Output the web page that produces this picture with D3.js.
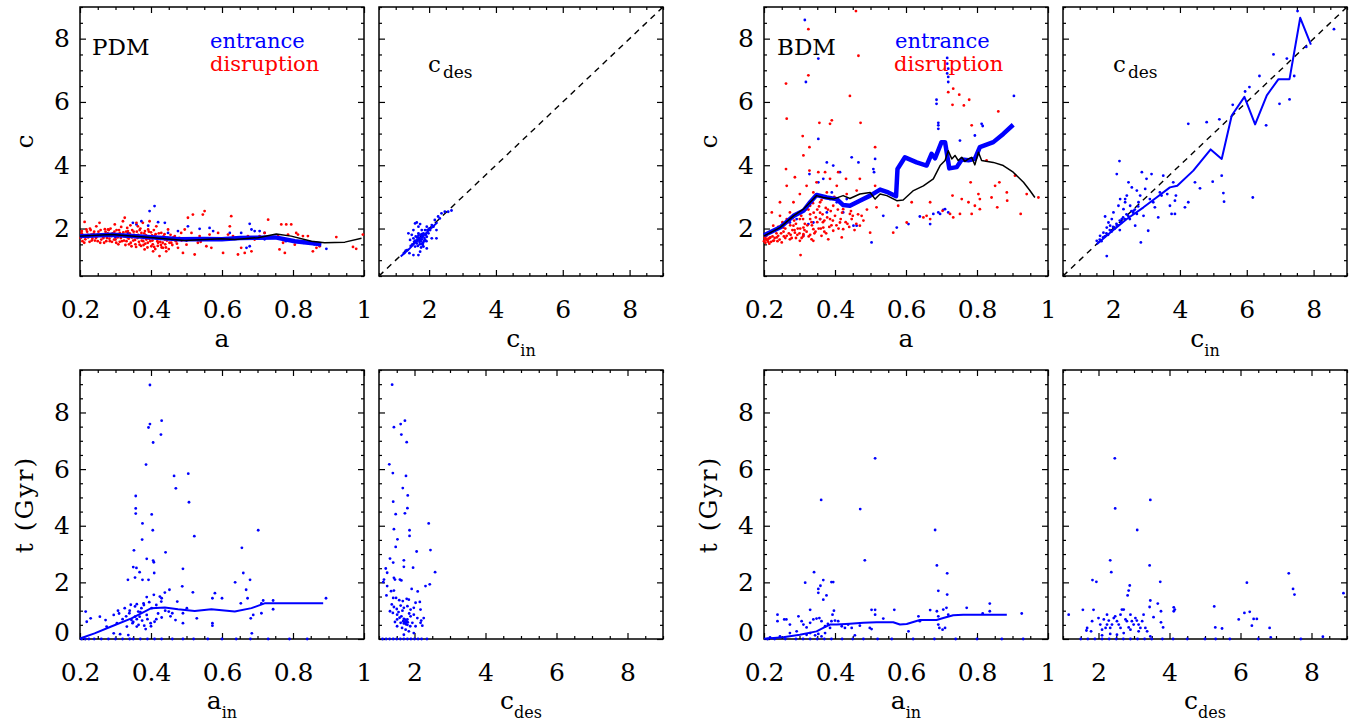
<!DOCTYPE html>
<html>
<head>
<meta charset="utf-8">
<script src="https://cdn.jsdelivr.net/npm/d3@7"></script>
<style>
  body { margin: 0; background: #fff; }
  text { font-family: "DejaVu Serif", serif; fill: #000; }
</style>
</head>
<body>
<svg id="chart" width="1353" height="725"></svg>
<script>
// ---------- data ----------

// PDM, c vs a : scatter of entrance (blue) and disruption (red)
const pdmEntrance = [[0.396,2.55],[0.41,2.71],[0.349,2.18],[0.359,2.13],[0.373,2.23],[0.392,2.09],[0.42,2.2],[0.439,2.18],[0.476,1.92],[0.504,2.07],[0.537,1.99],[0.565,2.02],[0.575,1.92],[0.622,1.86],[0.654,1.86],[0.678,2.15],[0.683,1.97],[0.692,1.92],[0.706,1.92],[0.72,1.86],[0.669,1.39],[0.678,1.44],[0.894,1.36],[0.448,1.86],[0.335,1.86],[0.307,1.81],[0.269,1.76],[0.25,1.8],[0.3,1.72],[0.33,1.74],[0.38,1.7],[0.43,1.68],[0.5,1.62],[0.55,1.66],[0.6,1.66],[0.65,1.7],[0.72,1.66],[0.78,1.6],[0.83,1.55],[0.86,1.5]];
const pdmDisruption = [[0.213,2.21],[0.218,1.97],[0.232,1.81],[0.246,2.07],[0.255,2.18],[0.26,1.65],[0.279,1.97],[0.288,1.76],[0.298,2.13],[0.302,1.55],[0.312,1.86],[0.321,2.23],[0.326,2.34],[0.331,1.6],[0.335,1.92],[0.345,1.44],[0.354,1.76],[0.359,2.18],[0.363,2.07],[0.368,1.49],[0.373,1.86],[0.377,2.18],[0.382,1.34],[0.387,1.65],[0.392,1.97],[0.396,2.23],[0.401,1.44],[0.406,1.28],[0.41,1.76],[0.415,2.07],[0.42,1.55],[0.424,1.13],[0.429,1.86],[0.434,1.39],[0.439,1.65],[0.443,1.28],[0.448,1.97],[0.457,1.55],[0.467,1.76],[0.476,1.39],[0.485,1.86],[0.49,1.23],[0.495,1.97],[0.5,1.49],[0.504,2.34],[0.514,1.86],[0.518,2.44],[0.523,1.18],[0.532,1.55],[0.537,1.76],[0.546,2.44],[0.551,2.55],[0.556,1.44],[0.565,1.81],[0.57,1.39],[0.579,1.65],[0.589,1.86],[0.603,1.23],[0.617,1.81],[0.622,2.07],[0.626,2.39],[0.631,1.76],[0.645,1.18],[0.654,1.39],[0.664,1.23],[0.673,1.76],[0.683,1.28],[0.692,1.65],[0.706,1.76],[0.72,1.86],[0.73,2.28],[0.758,1.76],[0.762,1.34],[0.767,2.13],[0.772,1.55],[0.777,1.23],[0.781,2.13],[0.786,1.81],[0.795,2.13],[0.805,1.49],[0.809,1.86],[0.814,1.81],[0.828,1.76],[0.842,1.76],[0.856,1.28],[0.866,1.39],[0.875,1.44],[0.922,1.73],[0.969,1.42],[0.978,1.36],[0.997,1.81],
  [0.202,1.7],[0.205,1.85],[0.207,1.6],[0.21,1.78],[0.215,1.66],[0.22,1.9],[0.223,1.72],[0.227,1.58],[0.23,1.95],[0.235,1.68],[0.238,1.83],[0.242,1.62],[0.248,1.75],[0.252,1.9],[0.257,1.55],[0.262,1.8],[0.266,1.7],[0.27,1.98],[0.274,1.6],[0.278,1.85],[0.283,1.68],[0.286,2.0],[0.29,1.58],[0.294,1.78],[0.297,1.9],[0.3,1.65],[0.305,1.82],[0.308,1.5],[0.31,1.95],[0.315,1.7],[0.318,1.6],[0.322,1.88],[0.325,1.75],[0.328,1.48],[0.333,2.02],[0.337,1.68],[0.34,1.85],[0.343,1.55],[0.347,1.95],[0.35,1.62],[0.352,1.8],[0.356,1.5],[0.36,1.9],[0.362,1.7],[0.366,1.58],[0.37,2.0],[0.372,1.45],[0.375,1.75],[0.378,1.6],[0.381,1.85],[0.384,1.52],[0.388,1.7],[0.39,1.4],[0.394,1.9],[0.398,1.6],[0.403,1.78],[0.405,1.5],[0.408,1.95],[0.412,1.35],[0.416,1.68],[0.419,1.45],[0.422,1.85],[0.426,1.58],[0.43,1.4],[0.435,1.75],[0.44,1.5],[0.445,1.62],[0.45,1.35],[0.455,1.8],[0.46,1.48],[0.47,1.6],[0.48,1.7],
  [0.205,1.92],[0.212,1.55],[0.222,1.8],[0.228,2.0],[0.233,1.62],[0.24,1.9],[0.245,1.7],[0.25,1.6],[0.258,1.95],[0.264,1.75],[0.268,1.55],[0.272,1.9],[0.276,1.7],[0.281,1.95],[0.284,1.6],[0.292,1.85],[0.296,1.65],[0.303,1.95],[0.306,1.72],[0.312,1.58],[0.316,2.05],[0.32,1.78],[0.324,1.62],[0.33,1.9],[0.334,1.72],[0.338,1.5],[0.342,2.1],[0.346,1.72],[0.351,1.9],[0.355,1.64],[0.358,1.42],[0.364,1.8],[0.368,1.95],[0.374,1.62],[0.379,1.48],[0.383,1.92],[0.386,1.78],[0.391,1.55],[0.395,1.68],[0.4,1.88],[0.404,1.62],[0.409,1.42],[0.413,1.82],[0.418,1.6],[0.423,1.7],[0.428,1.48],[0.433,1.55],[0.438,1.82],[0.442,1.4],[0.447,1.7],[0.452,1.55],[0.463,1.72],[0.473,1.52],[0.486,1.62],[0.52,1.65],[0.54,1.58]];
const pdmMeanEntrance = [[0.2,1.76],[0.29,1.8],[0.38,1.74],[0.48,1.66],[0.55,1.67],[0.6,1.66],[0.65,1.7],[0.7,1.71],[0.75,1.72],[0.805,1.6],[0.85,1.54],[0.88,1.5]];
const pdmMeanDisruption = [[0.2,1.76],[0.288,1.81],[0.382,1.73],[0.495,1.62],[0.598,1.68],[0.636,1.65],[0.701,1.71],[0.753,1.83],[0.795,1.76],[0.852,1.6],[0.889,1.55],[0.946,1.57],[0.993,1.69]];

// PDM, c_des vs c_in
const pdmCin = [[1.38,1.85],[1.43,1.64],[1.48,1.8],[1.53,1.95],[1.58,2.16],[1.63,2.19],[1.68,2.06],[1.73,2.14],[1.78,1.95],[1.41,1.22],[1.53,1.16],[1.68,1.16],[1.73,1.27],[1.83,1.43],[1.88,1.64],[1.93,1.74],[1.98,1.85],[2.03,1.95],[2.08,1.69],[2.13,2.06],[2.17,2.27],[2.22,1.69],[2.27,2.38],[2.32,2.32],[2.37,2.48],[2.47,2.53],[2.57,2.53],[2.67,2.57],[1.93,1.37],[1.78,1.74],[1.63,1.53],[1.68,1.85],[1.83,1.85],[1.88,1.95],[1.73,1.64],[1.58,1.43],[1.53,1.69],[1.93,2.06],[2.08,2.11],[2.22,1.95],
  [1.7,1.7],[1.75,1.6],[1.8,1.75],[1.72,1.5],[1.85,1.6],[1.65,1.65],[1.78,1.82],[1.9,1.8],[1.6,1.75],[1.82,1.55],[1.76,1.4],[1.68,1.78],[1.95,1.95],[1.5,1.5],[1.45,1.45],[1.3,1.3],[1.25,1.22],[1.35,1.32],[2.0,2.0],[2.1,2.05],[1.55,1.58],[1.62,1.6],
  [1.66,1.45],[1.71,1.58],[1.79,1.66],[1.86,1.7],[1.74,1.8],[1.81,1.48],[1.64,1.72],[1.92,1.6],[1.58,1.62],[1.77,1.52]];
const pdmCinMean = [[1.15,1.12],[1.4,1.35],[1.6,1.57],[1.8,1.74],[2.0,1.95],[2.25,2.2]];

// BDM, c vs a
const bdmEntrance = [[0.315,8.59],[0.353,7.37],[0.318,6.63],[0.353,4.83],[0.328,3.72],[0.377,4.09],[0.395,3.99],[0.414,3.78],[0.353,3.46],[0.367,3.57],[0.391,3.14],[0.405,2.83],[0.433,2.93],[0.447,4.25],[0.466,4.09],[0.508,3.88],[0.513,4.2],[0.51,3.78],[0.536,2.4],[0.503,1.56],[0.461,2.09],[0.574,2.03],[0.607,2.14],[0.639,2.38],[0.668,2.14],[0.677,2.46],[0.691,2.51],[0.696,2.46],[0.705,2.59],[0.71,2.61],[0.719,2.51],[0.716,7.39],[0.716,7.21],[0.719,7.05],[0.716,6.9],[0.719,6.79],[0.719,6.63],[0.686,6.07],[0.686,5.94],[0.691,5.34],[0.691,5.26],[0.691,5.15],[0.752,4.78],[0.794,4.94],[0.813,5.31],[0.816,5.24],[0.904,6.19],[0.386,2.93],[0.358,2.3],[0.377,2.51],[0.339,2.19],[0.311,1.77],[0.325,2.14],[0.423,2.51],[0.452,2.09],[0.273,2.19],[0.292,2.3]];
const bdmDisruption = [[0.459,8.87],[0.325,8.3],[0.466,7.46],[0.325,6.84],[0.262,6.58],[0.442,6.19],[0.264,5.47],[0.356,5.34],[0.386,5.31],[0.391,5.42],[0.472,5.34],[0.309,4.92],[0.328,4.57],[0.311,4.31],[0.262,3.88],[0.513,4.57],[0.287,3.62],[0.328,3.83],[0.353,3.78],[0.372,3.78],[0.409,3.78],[0.386,3.57],[0.264,3.35],[0.32,3.35],[0.348,3.46],[0.405,3.35],[0.431,3.57],[0.47,3.57],[0.513,3.35],[0.461,3.2],[0.301,3.09],[0.339,3.14],[0.377,3.14],[0.433,3.09],[0.499,3.04],[0.517,2.67],[0.245,2.83],[0.283,2.83],[0.33,2.72],[0.358,2.83],[0.395,2.72],[0.423,2.61],[0.442,2.46],[0.475,2.4],[0.222,2.51],[0.245,2.4],[0.273,2.51],[0.301,2.3],[0.33,2.3],[0.358,2.3],[0.386,2.3],[0.414,2.19],[0.447,2.3],[0.47,2.09],[0.226,2.09],[0.254,2.03],[0.283,2.09],[0.311,2.03],[0.339,1.98],[0.367,2.03],[0.395,1.93],[0.423,1.98],[0.217,1.87],[0.24,1.77],[0.264,1.77],[0.287,1.87],[0.311,1.82],[0.334,1.66],[0.362,1.77],[0.381,1.66],[0.419,1.72],[0.499,1.87],[0.208,1.66],[0.226,1.61],[0.25,1.56],[0.273,1.66],[0.301,1.61],[0.339,1.61],[0.303,1.16],[0.564,1.87],[0.578,2.72],[0.602,2.19],[0.616,2.83],[0.668,2.83],[0.731,3.04],[0.757,2.93],[0.776,2.83],[0.782,3.46],[0.804,3.09],[0.794,2.72],[0.808,2.93],[0.827,4.15],[0.86,5.7],[0.785,5.26],[0.863,3.46],[0.884,3.14],[0.857,2.67],[0.907,3.67],[0.923,2.46],[0.94,3.09],[0.973,2.98],[0.719,6.31],[0.733,6.42],[0.75,6.23],[0.731,5.91],[0.763,5.89],[0.778,6.07],[0.724,2.46],[0.733,2.35],[0.703,2.56],[0.658,2.4],[0.649,2.35],[0.668,2.3],[0.752,2.46],[0.785,2.46],[0.808,2.61],[0.841,2.98],[0.851,3.35],[0.885,2.88],
  [0.2,1.6],[0.202,1.7],[0.204,1.55],[0.206,1.75],[0.21,1.62],[0.213,1.68],[0.215,1.52],[0.218,1.72],[0.22,1.58],[0.23,1.7],[0.235,1.85],[0.238,1.6],[0.255,1.9],[0.26,1.7],[0.268,2.2],[0.275,1.8],[0.28,1.95],[0.285,2.25],[0.29,1.7],[0.295,2.0],[0.3,1.85],[0.305,2.4],[0.31,1.75],[0.315,2.15],[0.32,1.9],[0.325,2.6],[0.33,1.8],[0.335,2.1],[0.34,2.5],[0.345,1.9],[0.35,2.2],[0.355,2.7],[0.36,2.0],[0.365,2.45],[0.37,2.25],[0.375,1.85],[0.38,2.6],[0.39,2.1],[0.4,2.4],[0.41,2.0],[0.42,2.5],[0.43,2.2],[0.44,2.05],[0.45,2.4],[0.46,2.15],
  [0.205,1.65],[0.208,1.8],[0.212,1.58],[0.216,1.7],[0.22,1.9],[0.224,1.75],[0.228,1.62],[0.232,1.95],[0.236,1.72],[0.24,2.05],[0.244,1.65],[0.248,1.85],[0.252,2.2],[0.256,1.75],[0.26,2.0],[0.264,2.3],[0.27,1.85],[0.274,2.1],[0.278,1.7],[0.282,2.35],[0.286,1.95],[0.29,2.15],[0.294,1.8],[0.298,2.5],[0.302,2.0],[0.306,1.7],[0.31,2.3],[0.314,1.95],[0.318,2.6],[0.322,2.1],[0.326,1.75],[0.33,2.45],[0.334,2.2],[0.338,2.8],[0.342,1.85],[0.346,2.35],[0.35,2.6],[0.354,2.0],[0.358,2.5],[0.362,2.9],[0.366,2.2],[0.37,1.9],[0.374,2.65],[0.378,2.35],[0.384,2.05],[0.388,2.55],[0.394,2.25],[0.398,3.0],[0.404,2.1],[0.408,2.6],[0.416,2.3],[0.425,2.75],[0.435,2.15],[0.445,2.55],[0.455,1.95],[0.465,2.45],[0.48,2.25],[0.49,2.6]];
const bdmMeanEntrance = [[0.2,1.79],[0.245,2.03],[0.283,2.4],[0.311,2.56],[0.33,2.83],[0.348,3.06],[0.377,2.98],[0.405,2.93],[0.423,2.74],[0.442,2.72],[0.47,2.88],[0.499,3.04],[0.527,3.23],[0.55,3.14],[0.572,3.02],[0.576,3.88],[0.597,4.25],[0.63,4.09],[0.658,3.99],[0.672,4.36],[0.682,4.22],[0.7,4.73],[0.71,4.73],[0.722,3.9],[0.743,3.94],[0.757,4.18],[0.776,4.16],[0.794,4.2],[0.808,4.57],[0.846,4.73],[0.874,4.99],[0.902,5.28]];
const bdmMeanDisruption = [[0.2,1.77],[0.245,2.03],[0.283,2.4],[0.311,2.61],[0.33,2.83],[0.348,3.04],[0.367,2.98],[0.395,2.93],[0.423,3.04],[0.442,2.95],[0.47,3.09],[0.499,3.14],[0.513,2.93],[0.527,3.09],[0.546,3.04],[0.574,2.88],[0.592,2.9],[0.621,3.2],[0.649,3.35],[0.677,3.57],[0.696,3.99],[0.71,4.15],[0.719,4.46],[0.729,4.2],[0.738,4.31],[0.747,4.15],[0.757,4.25],[0.766,4.12],[0.776,4.2],[0.785,4.25],[0.794,4.01],[0.804,4.41],[0.813,4.15],[0.846,4.09],[0.874,3.99],[0.902,3.78],[0.931,3.46],[0.949,3.2],[0.963,2.98]];

// BDM, c_des vs c_in
const bdmCin = [[1.51,1.61],[1.61,1.77],[1.71,1.87],[1.81,2.03],[1.86,2.19],[1.76,2.38],[1.91,2.09],[1.96,2.3],[2.01,2.51],[2.11,2.09],[2.16,2.72],[2.21,2.93],[2.26,2.3],[2.31,2.61],[2.36,2.83],[2.41,3.04],[2.46,3.46],[2.51,2.72],[2.56,3.3],[2.61,2.56],[2.66,2.09],[2.71,2.46],[2.76,2.83],[2.81,3.04],[2.86,3.78],[2.91,2.4],[2.96,3.25],[3.0,3.57],[3.05,1.93],[3.1,2.93],[3.15,3.72],[3.2,2.83],[3.25,2.67],[3.35,2.35],[3.4,3.14],[3.45,3.04],[3.5,3.67],[3.62,3.09],[3.7,2.72],[3.75,2.46],[3.8,3.46],[3.85,2.88],[3.85,2.46],[3.88,3.04],[4.15,2.67],[4.25,5.31],[4.25,2.83],[4.45,3.46],[4.6,3.27],[4.8,5.36],[4.98,3.48],[5.18,5.45],[5.25,3.67],[5.3,3.12],[5.32,2.85],[5.58,5.91],[5.95,6.33],[6.08,6.47],[6.18,2.98],[6.38,6.82],[6.58,5.26],[6.8,7.5],[6.98,5.94],[7.2,7.37],[7.28,6.08],[7.42,6.82],[7.52,8.87],[7.78,7.74],[8.61,8.3],[2.19,4.13],[2.11,3.72],[1.81,1.13],[2.83,1.56],[2.36,2.93],[2.71,3.2],
  [1.6,1.65],[1.7,1.72],[1.8,1.85],[1.9,1.95],[2.0,2.05],[2.1,2.15],[2.2,2.25],[2.3,2.35],[2.4,2.45],[1.65,1.6],[1.75,1.75],[1.85,1.8],[1.95,1.9],[2.05,2.0],[2.15,2.1],[2.25,2.2],[2.35,2.3],[2.45,2.4],[2.55,2.55],[2.65,2.6],[2.75,2.7],[2.5,2.3],[2.6,2.5],[2.2,1.95]];
const bdmCinMean = [[1.51,1.5],[1.91,1.87],[2.41,2.3],[2.91,2.67],[3.3,2.98],[3.7,3.3],[3.92,3.35],[4.4,3.83],[4.92,4.5],[5.25,4.2],[5.55,5.57],[5.93,6.16],[6.25,5.29],[6.6,6.21],[6.95,6.72],[7.28,6.72],[7.6,8.66],[7.92,7.81]];

// PDM, t vs a_in and t vs c_des
const pdmTin = [[0.397,8.97],[0.397,7.59],[0.393,7.47],[0.43,7.71],[0.428,7.22],[0.406,6.94],[0.386,6.16],[0.402,4.4],[0.465,5.76],[0.47,5.32],[0.505,5.84],[0.507,4.83],[0.357,5.05],[0.357,4.61],[0.357,4.43],[0.376,4.08],[0.375,3.51],[0.352,3.13],[0.405,3.84],[0.441,3.06],[0.522,3.63],[0.388,2.83],[0.406,2.77],[0.408,2.71],[0.409,2.33],[0.35,2.54],[0.359,2.51],[0.368,2.36],[0.376,2.09],[0.393,2.09],[0.335,2.09],[0.355,2.17],[0.49,2.48],[0.488,1.86],[0.518,1.65],[0.452,1.74],[0.439,1.64],[0.43,1.44],[0.429,1.32],[0.408,1.56],[0.388,1.48],[0.379,1.26],[0.36,1.23],[0.343,1.21],[0.326,1.09],[0.307,1.0],[0.295,0.85],[0.272,0.67],[0.256,0.79],[0.23,0.73],[0.216,0.97],[0.219,0.61],[0.275,0.44],[0.295,0.2],[0.313,0.17],[0.336,0.14],[0.348,0.56],[0.36,0.44],[0.368,0.79],[0.381,0.47],[0.399,0.56],[0.41,0.61],[0.415,0.7],[0.43,0.76],[0.45,0.97],[0.46,0.91],[0.469,0.67],[0.474,1.32],[0.49,0.56],[0.49,0.91],[0.501,1.09],[0.529,0.73],[0.573,1.44],[0.58,1.62],[0.6,1.44],[0.573,0.56],[0.573,0.47],[0.637,2.0],[0.656,3.22],[0.66,2.33],[0.668,1.74],[0.672,1.44],[0.679,2.09],[0.653,1.26],[0.681,0.73],[0.684,0.2],[0.688,0.85],[0.702,3.84],[0.711,1.26],[0.711,0.91],[0.716,1.36],[0.744,1.05],[0.744,1.36],[0.893,1.44],[0.339,0.91],[0.345,0.67],[0.355,0.79],[0.364,0.97],[0.373,1.09],[0.304,0.56],[0.332,0.44],[0.388,0.85],[0.402,1.09],
  [0.33,0.8],[0.34,1.0],[0.35,0.6],[0.355,1.15],[0.36,0.7],[0.365,0.5],[0.37,0.95],[0.375,0.65],[0.38,1.2],[0.385,0.35],[0.39,0.7],[0.395,1.3],[0.4,0.45],[0.32,0.7],[0.31,0.9],[0.415,1.2],[0.42,0.9],[0.425,1.5],[0.44,1.0],[0.455,0.8],
  [0.205,0],[0.215,0],[0.225,0],[0.24,0],[0.26,0],[0.28,0],[0.3,0],[0.32,0],[0.34,0],[0.35,0],[0.37,0],[0.39,0],[0.41,0],[0.43,0],[0.46,0],[0.49,0],[0.52,0],[0.56,0],[0.6,0],[0.64,0],[0.68,0],[0.73,0],[0.79,0],[0.84,0]];
const pdmTinMean = [[0.2,0.02],[0.241,0.2],[0.288,0.44],[0.345,0.73],[0.401,1.09],[0.439,1.11],[0.476,1.05],[0.523,0.99],[0.57,1.05],[0.636,0.97],[0.683,1.09],[0.72,1.26],[0.885,1.26]];
const pdmTdes = [[1.37,8.98],[1.42,7.48],[1.61,7.59],[1.73,7.71],[1.63,7.22],[1.78,6.95],[1.29,6.17],[1.39,5.86],[1.76,5.76],[1.67,5.33],[1.81,5.07],[1.4,4.85],[1.8,4.62],[1.73,4.44],[1.47,4.41],[2.4,4.08],[1.86,3.84],[1.42,3.88],[1.86,3.64],[1.52,3.52],[2.45,3.14],[2.06,3.09],[1.47,3.25],[1.31,2.84],[1.4,2.7],[1.7,2.78],[1.7,2.55],[1.96,2.52],[2.58,2.36],[1.19,2.49],[1.23,2.34],[1.14,2.1],[1.12,2.01],[1.42,2.16],[1.45,2.1],[1.59,2.1],[1.63,2.07],[1.23,1.87],[1.34,1.69],[1.42,1.71],[1.21,1.54],[1.92,1.77],[2.09,1.68],[2.31,1.87],[2.43,1.93],[1.4,1.45],[1.48,1.45],[1.57,1.37],[1.67,1.34],[1.78,1.42],[1.84,1.39],[2.15,1.31],[2.03,1.28],[1.36,1.22],[1.42,1.13],[1.5,1.06],[1.61,1.18],[1.7,1.1],[1.8,1.16],[1.89,1.04],[1.98,1.1],[2.17,1.04],[1.31,0.98],[1.39,0.92],[1.51,0.86],[1.63,0.8],[1.7,0.71],[1.8,0.69],[1.89,0.8],[1.98,0.86],[2.08,0.74],[2.26,0.74],[1.51,0.69],[1.61,0.57],[1.68,0.63],[1.75,0.57],[1.81,0.59],[1.94,0.57],[2.17,0.57],[1.51,0.45],[1.65,0.39],[1.75,0.33],[1.84,0.27],[1.98,0.21],[2.03,0.45],[1.7,0.15],[2.22,0.47],[2.19,0.65],
  [1.72,0.6],[1.78,0.62],[1.76,0.52],[1.7,0.55],[1.8,0.5],[1.74,0.68],[1.55,0.95],[1.66,1.0],[1.85,0.9],[1.58,0.75],[1.88,0.45],[1.45,0.6],
  [1.1,0],[1.2,0],[1.3,0],[1.4,0],[1.5,0],[1.6,0],[1.7,0],[1.8,0],[1.9,0],[2.0,0],[2.1,0],[2.2,0],[2.35,0]];

// BDM, t vs a_in and t vs c_des
const bdmTin = [[0.513,6.38],[0.361,4.91],[0.471,4.59],[0.484,2.78],[0.682,3.85],[0.687,2.6],[0.691,1.7],[0.716,2.32],[0.716,1.57],[0.341,2.36],[0.316,1.99],[0.367,2.08],[0.359,1.88],[0.353,1.77],[0.353,1.63],[0.376,1.54],[0.367,1.39],[0.39,2.01],[0.395,2.01],[0.33,1.03],[0.397,1.0],[0.393,0.86],[0.503,1.03],[0.513,1.03],[0.513,0.86],[0.567,1.03],[0.536,0.72],[0.238,0.86],[0.238,0.63],[0.257,0.69],[0.263,0.69],[0.273,0.51],[0.297,0.8],[0.306,0.63],[0.311,0.51],[0.32,0.41],[0.33,0.57],[0.339,0.69],[0.348,0.72],[0.356,0.74],[0.362,0.63],[0.372,0.45],[0.38,0.53],[0.386,0.39],[0.39,0.63],[0.4,0.65],[0.409,0.63],[0.419,0.45],[0.428,0.39],[0.437,0.51],[0.447,0.39],[0.456,0.13],[0.47,0.47],[0.498,0.39],[0.503,0.35],[0.607,0.27],[0.635,0.8],[0.639,0.63],[0.668,1.02],[0.687,0.98],[0.691,0.8],[0.691,0.51],[0.694,0.39],[0.703,0.33],[0.71,0.39],[0.705,1.04],[0.714,1.1],[0.719,0.86],[0.771,1.1],[0.816,0.9],[0.836,1.25],[0.836,0.98],[0.926,0.9],[0.32,0.15],[0.33,0.21],[0.344,0.13],[0.353,0.18],[0.362,0.09],[0.372,0.21],[0.273,0.21],[0.245,0.09],[0.217,0.06],[0.292,0.27],
  [0.21,0],[0.23,0],[0.26,0],[0.29,0],[0.31,0],[0.33,0],[0.35,0],[0.37,0],[0.39,0],[0.42,0],[0.45,0],[0.48,0],[0.52,0],[0.56,0],[0.62,0],[0.68,0],[0.74,0],[0.8,0],[0.87,0],[0.93,0]];
const bdmTinMean = [[0.2,0.01],[0.254,0.06],[0.301,0.15],[0.348,0.27],[0.367,0.39],[0.386,0.51],[0.405,0.51],[0.442,0.54],[0.48,0.57],[0.517,0.59],[0.564,0.59],[0.583,0.51],[0.602,0.53],[0.639,0.67],[0.686,0.67],[0.705,0.74],[0.733,0.84],[0.761,0.86],[0.884,0.86]];
const bdmTdes = [[2.46,6.38],[2.47,4.61],[3.46,4.91],[3.09,3.85],[2.33,2.78],[2.36,2.36],[1.83,2.08],[1.94,2.02],[3.44,2.6],[3.74,2.02],[2.88,1.89],[2.85,1.71],[2.82,1.54],[7.36,2.32],[7.48,1.77],[7.52,1.57],[6.18,1.99],[8.9,1.62],[1.16,0.86],[1.56,1.03],[1.86,1.03],[4.15,1.04],[4.12,0.98],[5.26,1.15],[5.29,0.41],[5.48,0.37],[6.11,0.92],[6.26,0.96],[5.95,0.69],[6.37,0.71],[6.46,0.71],[6.32,0.47],[6.82,0.39],[6.85,0.06],[8.32,0.08],[3.46,1.36],[3.44,1.13],[3.67,1.25],[3.55,0.77],[3.76,0.98],[3.76,0.59],[3.82,0.41],[4.12,1.12],[1.82,0.63],[1.68,0.39],[1.66,0.3],[1.79,0.27],[2.05,0.51],[2.15,0.69],[2.2,0.39],[2.24,0.51],[2.29,0.65],[2.33,0.39],[2.38,0.51],[2.43,0.74],[2.47,0.8],[2.52,0.63],[2.57,0.51],[2.62,0.39],[2.66,1.04],[2.71,1.04],[2.76,0.69],[2.8,0.63],[2.85,0.41],[2.9,0.33],[2.94,0.63],[2.99,0.51],[3.04,0.74],[3.08,0.65],[3.13,0.51],[3.18,0.39],[3.23,0.63],[3.27,0.86],[3.32,0.39],[3.37,0.27],[2.71,0.21],[2.52,0.15],[2.33,0.18],[2.1,0.13],[2.9,0.86],[2.62,0.86],[2.24,0.86],[2.0,0.74],[2.1,0.33],[3.13,0.27],[3.46,0.09],
  [1.5,0],[1.7,0],[1.9,0],[2.1,0],[2.3,0],[2.5,0],[2.7,0],[2.9,0],[3.1,0],[3.3,0],[3.5,0],[3.8,0],[4.1,0],[4.5,0],[5.0,0],[5.3,0],[5.7,0],[6.5,0],[7.7,0]];

// axis ranges and ticks
const aRange = [0.2, 1];
const aTicks = [0.2, 0.4, 0.6, 0.8, 1];
const cRange = [0.5, 9];
const cTicks = [2, 4, 6, 8];
const cdesRange = [1, 9];
const tRange = [0, 9.5];
const tTicks = [0, 2, 4, 6, 8];
const diagonal = [0.5, 9];

// ---------- drawing ----------
const svg = d3.select('#chart');
const dims = { w: 284, h: 269 };
const BLUE = '#0000ff', RED = '#ff0000';

const fmtA = d => d === 1 ? '1' : d3.format('.1f')(d);
const fmtC = d => String(d);

// one IDL-like box panel with ticks on every side
const makePanel = p => {
    const g = svg.append('g').attr('transform', `translate(${p.left},${p.top})`);
    const x = d3.scaleLinear().domain(p.xd).range([0, dims.w]);
    const y = d3.scaleLinear().domain(p.yd).range([dims.h, 0]);

    const minorX = d3.range(p.xd[0], p.xd[1] + 1e-9, p.xm).filter(v => !p.xt.some(t => Math.abs(t - v) < 1e-6));
    const minorY = d3.range(p.yd[0], p.yd[1] + 1e-9, p.ym).filter(v => !p.yt.some(t => Math.abs(t - v) < 1e-6));

    const addAxis = (gen, tr, vals, len, fmt, pad) => {
        const a = g.append('g').attr('transform', tr)
            .call(gen.tickValues(vals).tickSize(-len).tickPadding(pad || 3).tickFormat(fmt || ''));
        a.select('.domain').remove();
        a.selectAll('line').attr('stroke', '#000').attr('stroke-width', 1.2);
        a.selectAll('text').attr('font-size', 25).attr('font-family', '"DejaVu Serif", serif').attr('fill', '#000');
        return a;
    };

    // major
    addAxis(d3.axisBottom(x), `translate(0,${dims.h})`, p.xt, 6, p.xf, 24);
    addAxis(d3.axisTop(x), 'translate(0,0)', p.xt, 6);
    const yl = addAxis(d3.axisLeft(y), 'translate(0,0)', p.yt, 6, p.yf, 10);
    addAxis(d3.axisRight(y), `translate(${dims.w},0)`, p.yt, 6);
    // lift the zero label like the original
    yl.selectAll('.tick text').filter(d => d === 0).attr('dy', '0.06em');
    // minor
    addAxis(d3.axisBottom(x), `translate(0,${dims.h})`, minorX, 3);
    addAxis(d3.axisTop(x), 'translate(0,0)', minorX, 3);
    addAxis(d3.axisLeft(y), 'translate(0,0)', minorY, 3);
    addAxis(d3.axisRight(y), `translate(${dims.w},0)`, minorY, 3);

    g.append('rect')
        .attr('width', dims.w).attr('height', dims.h)
        .attr('fill', 'none').attr('stroke', '#000').attr('stroke-width', 1.5);

    return { g, x, y };
};

const dots = (P, data, color) => {
    P.g.append('g').selectAll('circle')
        .data(data)
        .join('circle')
        .attr('cx', d => P.x(d[0]))
        .attr('cy', d => P.y(d[1]))
        .attr('r', 1.4)
        .attr('fill', color);
};

const path = (P, data, color, width, dash) => {
    const line = d3.line().x(d => P.x(d[0])).y(d => P.y(d[1]));
    P.g.append('path')
        .attr('d', line(data))
        .attr('fill', 'none')
        .attr('stroke', color)
        .attr('stroke-width', width)
        .attr('stroke-linejoin', 'round')
        .attr('stroke-dasharray', dash || null);
};

const diag = P => path(P, [[diagonal[0], diagonal[0]], [diagonal[1], diagonal[1]]], '#000', 1.4, '6,5');

// titles
const xTitle = (P, main, sub, y) => {
    const t = svg.append('text')
        .attr('x', P.left + dims.w / 2).attr('y', y)
        .attr('text-anchor', 'middle').attr('font-size', 25);
    t.append('tspan').text(main);
    if (sub) t.append('tspan').attr('font-size', 16).attr('dy', 9).text(sub);
};
const yTitle = (P, label) => {
    svg.append('text')
        .attr('transform', `translate(${P.left - 47},${P.top + dims.h / 2}) rotate(-90)`)
        .attr('text-anchor', 'middle').attr('font-size', 25)
        .attr('letter-spacing', label.length > 2 ? 2 : 0)
        .text(label);
};
const inner = (P, main, sub, dx, y) => {
    const t = P.g.append('text').attr('x', dx).attr('y', y).attr('font-size', 23);
    t.append('tspan').text(main);
    t.append('tspan').attr('font-size', 17).attr('dy', 6).attr('dx', 2).text(sub);
};

const topY = 7, botY = 370;
const cfg = [
    { left: 80,   top: topY, xd: aRange, yd: cRange, xt: aTicks, yt: cTicks, xm: 0.05, ym: 0.5, xf: fmtA, yf: fmtC },
    { left: 379,  top: topY, xd: cRange, yd: cRange, xt: cTicks, yt: cTicks, xm: 0.5, ym: 0.5, xf: fmtC },
    { left: 764,  top: topY, xd: aRange, yd: cRange, xt: aTicks, yt: cTicks, xm: 0.05, ym: 0.5, xf: fmtA, yf: fmtC },
    { left: 1063, top: topY, xd: cRange, yd: cRange, xt: cTicks, yt: cTicks, xm: 0.5, ym: 0.5, xf: fmtC },
    { left: 80,   top: botY, xd: aRange, yd: tRange, xt: aTicks, yt: tTicks, xm: 0.05, ym: 0.5, xf: fmtA, yf: fmtC },
    { left: 379,  top: botY, xd: cdesRange, yd: tRange, xt: cTicks, yt: tTicks, xm: 0.5, ym: 0.5, xf: fmtC },
    { left: 764,  top: botY, xd: aRange, yd: tRange, xt: aTicks, yt: tTicks, xm: 0.05, ym: 0.5, xf: fmtA, yf: fmtC },
    { left: 1063, top: botY, xd: cdesRange, yd: tRange, xt: cTicks, yt: tTicks, xm: 0.5, ym: 0.5, xf: fmtC }
];
const P = cfg.map(c => Object.assign(makePanel(c), c));

// PDM c vs a
dots(P[0], pdmEntrance, BLUE);
dots(P[0], pdmDisruption, RED);
path(P[0], pdmMeanEntrance, BLUE, 4.5);
path(P[0], pdmMeanDisruption, '#000', 1.5);
P[0].g.append('text').attr('x', 12).attr('y', 48).attr('font-size', 23).text('PDM');
P[0].g.append('text').attr('x', 130).attr('y', 41).attr('font-size', 21).style('fill', BLUE).text('entrance');
P[0].g.append('text').attr('x', 130).attr('y', 64).attr('font-size', 21).style('fill', RED).text('disruption');

// PDM c_des vs c_in
diag(P[1]);
dots(P[1], pdmCin, BLUE);
path(P[1], pdmCinMean, BLUE, 2);
inner(P[1], 'c', 'des', 49, 65);

// BDM c vs a
dots(P[2], bdmEntrance, BLUE);
dots(P[2], bdmDisruption, RED);
path(P[2], bdmMeanEntrance, BLUE, 4.5);
path(P[2], bdmMeanDisruption, '#000', 1.5);
P[2].g.append('text').attr('x', 13).attr('y', 48).attr('font-size', 23).text('BDM');
P[2].g.append('text').attr('x', 131).attr('y', 41).attr('font-size', 21).style('fill', BLUE).text('entrance');
P[2].g.append('text').attr('x', 130).attr('y', 64).attr('font-size', 21).style('fill', RED).text('disruption');

// BDM c_des vs c_in
diag(P[3]);
dots(P[3], bdmCin, BLUE);
path(P[3], bdmCinMean, BLUE, 2);
inner(P[3], 'c', 'des', 50, 65);

// t panels
dots(P[4], pdmTin, BLUE);
path(P[4], pdmTinMean, BLUE, 2);
dots(P[5], pdmTdes, BLUE);
dots(P[6], bdmTin, BLUE);
path(P[6], bdmTinMean, BLUE, 2);
dots(P[7], bdmTdes, BLUE);

// axis titles
xTitle(P[0], 'a', null, 347);
xTitle(P[1], 'c', 'in', 347);
xTitle(P[2], 'a', null, 347);
xTitle(P[3], 'c', 'in', 347);
xTitle(P[4], 'a', 'in', 709);
xTitle(P[5], 'c', 'des', 709);
xTitle(P[6], 'a', 'in', 709);
xTitle(P[7], 'c', 'des', 709);
yTitle(P[0], 'c');
yTitle(P[2], 'c');
yTitle(P[4], 't (Gyr)');
yTitle(P[6], 't (Gyr)');
</script>
</body>
</html>
